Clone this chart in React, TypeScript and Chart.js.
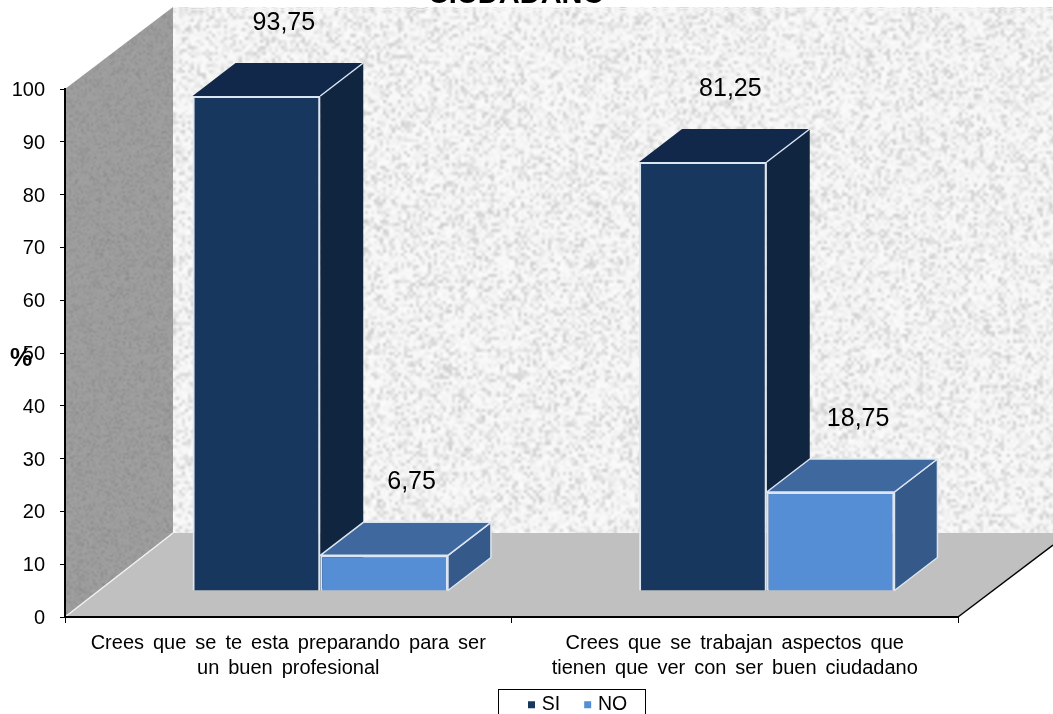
import React, { useEffect, useRef } from "react";
import { Chart, registerables } from "chart.js";

Chart.register(...registerables);

const categories = [
  ["Crees que se te esta preparando para ser", "un buen profesional"],
  ["Crees que se trabajan aspectos que", "tienen que ver con ser buen ciudadano"],
];
const siValues = [93.75, 81.25];
const noValues = [6.75, 18.75];
const yTicks = [0, 10, 20, 30, 40, 50, 60, 70, 80, 90, 100];
const titleText = "CIUDADANO";
const yLabel = "%";

const FONT = "'Liberation Sans', Arial, sans-serif";

// Deterministic speckle texture for the chart walls
function hash(i: number, j: number) {
  const s = Math.sin(i * 127.1 + j * 311.7) * 43758.5453;
  return s - Math.floor(s);
}
function texture(w: number, h: number, base: number, amp: number, cell: number, ctxOut: CanvasRenderingContext2D) {
  const sw = Math.ceil(w / cell);
  const sh = Math.ceil(h / cell);
  const off = document.createElement("canvas");
  off.width = sw;
  off.height = sh;
  const c = off.getContext("2d")!;
  const img = c.createImageData(sw, sh);
  for (let j = 0; j < sh; j++) {
    for (let i = 0; i < sw; i++) {
      const n = hash(i, j);
      const v = base - amp * n * n * n + 5 * hash(j, i);
      const k = (j * sw + i) * 4;
      img.data[k] = v;
      img.data[k + 1] = v;
      img.data[k + 2] = v;
      img.data[k + 3] = 255;
    }
  }
  c.putImageData(img, 0, 0);
  ctxOut.imageSmoothingEnabled = true;
  ctxOut.imageSmoothingQuality = "high";
  return off;
}

function poly(ctx: CanvasRenderingContext2D, pts: number[][], fill: string, stroke?: string, lw = 2) {
  ctx.beginPath();
  pts.forEach((p, i) => (i ? ctx.lineTo(p[0], p[1]) : ctx.moveTo(p[0], p[1])));
  ctx.closePath();
  ctx.fillStyle = fill;
  ctx.fill();
  if (stroke) {
    ctx.strokeStyle = stroke;
    ctx.lineWidth = lw;
    ctx.lineJoin = "round";
    ctx.stroke();
  }
}

const EDGE = "#dce6f2";
const faces = [
  { front: "#17375e", top: "#12284a", side: "#10253f" },
  { front: "#558ed5", top: "#3f689e", side: "#355a8a" },
];
const BAR_SHIFT_X = 32;
const BAR_SHIFT_Y = 26;
const DEPTH_X = 43;
const DEPTH_Y = 33;
const WALL_X = 108;
const WALL_Y = 84;

const threeD = {
  id: "threeD",
  afterLayout(chart: any) {
    const t = chart.titleBlock;
    t.top = -22;
    t.left += 37.5;
    t.right += 37.5;
    const l = chart.legend;
    l.left = 504;
    l.right = 1053;
    l.top = 668;
    l.bottom = 760;
    chart.scales.x.bottom = 714;
    chart.scales.y.getLabelItems().forEach((it: any) => {
      it.options.translation[1] += 1.5;
    });
  },
  afterDatasetsUpdate(chart: any) {
    chart.data.datasets.forEach((_: any, d: number) => {
      chart.getDatasetMeta(d).data.forEach((el: any) => {
        el.x += BAR_SHIFT_X;
        el.y -= BAR_SHIFT_Y;
        el.base -= BAR_SHIFT_Y;
      });
    });
  },
  beforeDraw(chart: any) {
    const ctx: CanvasRenderingContext2D = chart.ctx;
    const a = chart.chartArea;
    const L = a.left;
    const R = a.right;
    const T = a.top;
    const B = a.bottom;
    ctx.save();
    const W = chart.width;
    // back wall
    ctx.save();
    ctx.beginPath();
    ctx.rect(L + WALL_X, T - WALL_Y + 2, W - L - WALL_X, B - T + 2);
    ctx.clip();
    ctx.drawImage(texture(900, 540, 246, 42, 3, ctx), L + WALL_X, T - WALL_Y + 2, 900, 540);
    ctx.restore();
    // left wall
    ctx.save();
    ctx.beginPath();
    ctx.moveTo(L, T);
    ctx.lineTo(L + WALL_X, T - WALL_Y + 2);
    ctx.lineTo(L + WALL_X, B - WALL_Y);
    ctx.lineTo(L, B);
    ctx.closePath();
    ctx.clip();
    ctx.drawImage(texture(110, 620, 156, 16, 2, ctx), L, 5, 110, 620);
    ctx.restore();
    // floor
    poly(ctx, [[L, B], [L + WALL_X, B - WALL_Y], [W, B - WALL_Y], [W, B - WALL_Y + 12], [R, B]], "#c0c0c0");
    ctx.strokeStyle = "#f2f2f2";
    ctx.lineWidth = 1.5;
    ctx.beginPath();
    ctx.moveTo(L, B);
    ctx.lineTo(L + WALL_X, B - WALL_Y);
    ctx.stroke();
    ctx.strokeStyle = "#000";
    ctx.lineWidth = 1.5;
    ctx.beginPath();
    ctx.moveTo(R, B);
    ctx.lineTo(W, B - WALL_Y + 12);
    ctx.stroke();
    ctx.restore();
    ctx.wordSpacing = "3.4px";
  },
  beforeDatasetsDraw(chart: any) {
    const ctx: CanvasRenderingContext2D = chart.ctx;
    ctx.save();
    const nCat = chart.data.labels.length;
    for (let c = 0; c < nCat; c++) {
      chart.data.datasets.forEach((_: any, d: number) => {
        const el = chart.getDatasetMeta(d).data[c];
        const hw = el.width / 2;
        const l = el.x - hw;
        const r = el.x + hw;
        const t = el.y;
        const b = el.base;
        const f = faces[d];
        poly(ctx, [[r, t], [r + DEPTH_X, t - DEPTH_Y], [r + DEPTH_X, b - DEPTH_Y], [r, b]], f.side, d ? EDGE : undefined, 1.5);
        poly(ctx, [[l, t], [l + DEPTH_X, t - DEPTH_Y], [r + DEPTH_X, t - DEPTH_Y], [r, t]], f.top, d ? EDGE : undefined, 1.5);
        if (!d) {
          ctx.strokeStyle = EDGE;
          ctx.lineWidth = 1.5;
          ctx.beginPath();
          ctx.moveTo(r, t);
          ctx.lineTo(r + DEPTH_X, t - DEPTH_Y);
          ctx.stroke();
        }
      });
    }
    ctx.restore();
  },
  afterDraw(chart: any) {
    const ctx: CanvasRenderingContext2D = chart.ctx;
    ctx.save();
    // data labels
    ctx.fillStyle = "#000";
    ctx.font = `25px ${FONT}`;
    ctx.textAlign = "center";
    ctx.textBaseline = "middle";
    chart.data.datasets.forEach((ds: any, d: number) => {
      chart.getDatasetMeta(d).data.forEach((el: any, i: number) => {
        const text = String(ds.data[i]).replace(".", ",");
        ctx.fillText(text, el.x + 27.5, el.y - 73);
      });
    });
    // axis label
    ctx.font = `bold 25px ${FONT}`;
    ctx.fillText(yLabel, 21, 359);
    // legend frame
    ctx.strokeStyle = "#000";
    ctx.lineWidth = 1;
    ctx.strokeRect(498.5, 689.5, 147, 40);
    ctx.restore();
  },
};

export default function App() {
  const ref = useRef<HTMLCanvasElement>(null);
  useEffect(() => {
    document.body.style.margin = "0";
    const chart = new Chart(ref.current!, {
      type: "bar",
      data: {
        labels: categories as any,
        datasets: [
          { label: "SI", data: siValues, backgroundColor: faces[0].front, borderColor: EDGE, borderWidth: 2, clip: false as any },
          { label: "NO", data: noValues, backgroundColor: faces[1].front, borderColor: EDGE, borderWidth: 2, clip: false as any },
        ],
      },
      options: {
        responsive: false,
        animation: false,
        layout: { padding: { left: 0, right: 95, top: 0, bottom: 0 } },
        categoryPercentage: 0.572,
        barPercentage: 1,
        scales: {
          x: {
            offset: true,
            border: { color: "#000", width: 2 },
            grid: { drawOnChartArea: false, offset: true, color: "#000", tickLength: 6, tickWidth: 1 },
            ticks: { font: { family: FONT, size: 20, lineHeight: 1.24 }, color: "#000", padding: 8, maxRotation: 0, autoSkip: false },
            afterFit(s: any) {
              s.height = 97 - (s.chart.legend ? s.chart.legend.height : 0);
            },
          },
          y: {
            min: 0,
            max: 100,
            border: { color: "#000", width: 2 },
            grid: { drawOnChartArea: false, color: "#000", tickLength: 5, tickWidth: 1 },
            afterBuildTicks(s: any) {
              s.ticks = yTicks.map((value) => ({ value }));
            },
            ticks: { font: { family: FONT, size: 20 }, color: "#000", padding: 15 },
            afterFit(s: any) {
              s.width = 65;
            },
          },
        },
        plugins: {
          title: {
            display: true,
            text: titleText,
            color: "#000",
            font: { family: FONT, size: 29, weight: "bold", lineHeight: 1.2 },
            padding: { top: 0, bottom: 54.2 },
          },
          legend: {
            position: "bottom",
            align: "start",
            labels: {
              font: { family: FONT, size: 19.5 },
              color: "#000",
              boxWidth: 1,
              boxHeight: 1,
              padding: 27,
              generateLabels(c: any) {
                return Chart.defaults.plugins.legend.labels.generateLabels(c).map((it: any) => ({ ...it, lineWidth: 6, strokeStyle: it.fillStyle }));
              },
            },
          },
          tooltip: { enabled: false },
        },
      } as any,
      plugins: [threeD],
    });
    return () => chart.destroy();
  }, []);
  return <canvas ref={ref} width={1053} height={714} style={{ display: "block", background: "#fff" }} />;
}
